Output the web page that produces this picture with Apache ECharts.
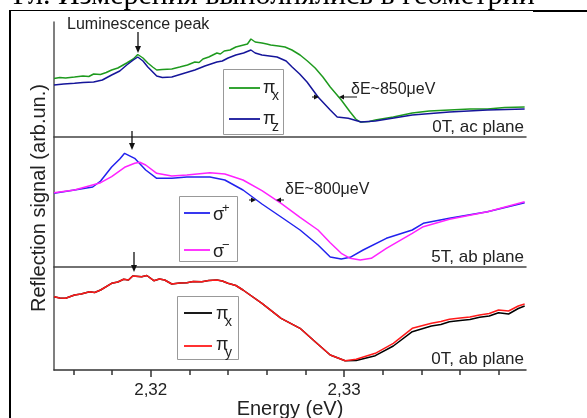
<!DOCTYPE html>
<html>
<head>
<meta charset="utf-8">
<script src="https://cdn.jsdelivr.net/npm/echarts@6/dist/echarts.min.js"></script>
<style>
html, body { margin: 0; padding: 0; background: #fff; }
#chart { width: 587px; height: 418px; }
</style>
</head>
<body>
<div id="chart"></div>
<script>
// x range of the energy axis (eV)
var eMin = 2.315, eMax = 2.3394;
var majorTicks = [2.32, 2.33];
var minorTicks = [2.316, 2.318, 2.322, 2.324, 2.326, 2.328, 2.332, 2.334, 2.336, 2.338];

// top panel, 0T ac plane  [energy, signal]
var piX_ac = [
  [2.31500, 58.5], [2.31530, 59.5], [2.31560, 59], [2.31606, 60], [2.31650, 61], [2.31680, 60.5],
  [2.31705, 63], [2.31740, 62.5], [2.31770, 64.5], [2.31798, 67], [2.31830, 69], [2.31876, 74],
  [2.31910, 78], [2.31933, 82.5], [2.31960, 79], [2.31985, 74], [2.32010, 70], [2.32031, 67],
  [2.32060, 67.5], [2.32109, 68], [2.32150, 70], [2.32190, 72], [2.32228, 75], [2.32250, 74.5],
  [2.32270, 78], [2.32300, 80], [2.32342, 84], [2.32360, 83], [2.32380, 86], [2.32410, 87],
  [2.32440, 90], [2.32480, 92], [2.32500, 93], [2.32518, 98], [2.32540, 95], [2.32575, 94],
  [2.32600, 93], [2.32620, 92], [2.32660, 91], [2.32694, 90], [2.32730, 87], [2.32772, 82],
  [2.32810, 76], [2.32850, 69], [2.32890, 60], [2.32928, 50], [2.32985, 37], [2.33031, 25],
  [2.33060, 18], [2.33083, 15], [2.33130, 15.5], [2.33161, 17], [2.33254, 20], [2.33352, 24],
  [2.33440, 26], [2.33544, 27], [2.33650, 28], [2.33741, 28], [2.33830, 29.5], [2.33933, 30]
];
var piZ_ac = [
  [2.31500, 52], [2.31550, 53], [2.31606, 53.7], [2.31650, 54.5], [2.31705, 55], [2.31750, 57],
  [2.31798, 62], [2.31840, 66], [2.31876, 72], [2.31910, 77], [2.31933, 80], [2.31960, 76],
  [2.31985, 70], [2.32031, 61], [2.32060, 59.5], [2.32109, 60], [2.32160, 63], [2.32228, 67],
  [2.32280, 71], [2.32342, 75], [2.32370, 76], [2.32400, 79], [2.32440, 82], [2.32480, 84],
  [2.32518, 87], [2.32540, 84], [2.32575, 82], [2.32653, 80], [2.32700, 76], [2.32731, 70],
  [2.32770, 63], [2.32808, 55], [2.32865, 40], [2.32928, 27], [2.32964, 20], [2.33021, 18.7],
  [2.33088, 15], [2.33161, 16], [2.33352, 22], [2.33544, 25], [2.33741, 27], [2.33933, 28]
];

// middle panel, 5T ab plane
var sigmaPlus = [
  [2.31500, 73.7], [2.31606, 77], [2.31700, 80], [2.31741, 86], [2.31798, 100], [2.31840, 108],
  [2.31865, 113.7], [2.31917, 108.7], [2.31974, 97], [2.32031, 88.7], [2.32109, 88.7],
  [2.32187, 90], [2.32306, 90], [2.32383, 87], [2.32477, 77], [2.32575, 63], [2.32674, 50],
  [2.32772, 37], [2.32865, 22], [2.32928, 10], [2.32985, 8], [2.33031, 9.7], [2.33098, 17],
  [2.33218, 28.7], [2.33352, 37], [2.33409, 43.7], [2.33544, 48.7], [2.33741, 55.3], [2.33933, 64.3]
];
var sigmaMinus = [
  [2.31500, 74.3], [2.31606, 77], [2.31741, 84.3], [2.31798, 90.3], [2.31865, 99.7],
  [2.31917, 103.7], [2.31943, 104.7], [2.31974, 102], [2.32031, 93.7], [2.32109, 91],
  [2.32187, 92], [2.32306, 94.3], [2.32383, 93], [2.32477, 87], [2.32575, 76.3], [2.32674, 63.7],
  [2.32772, 49.7], [2.32865, 37], [2.32928, 24.3], [2.32985, 13.7], [2.33031, 8.7], [2.33083, 7],
  [2.33140, 8.7], [2.33218, 18.7], [2.33352, 33.7], [2.33409, 40.3], [2.33544, 47.7],
  [2.33741, 55.3], [2.33933, 65.3]
];

// bottom panel, 0T ab plane (both curves share the left part)
var abCommon = [
  [2.31500, 73.3], [2.31530, 72], [2.31560, 71.7], [2.31606, 75], [2.31640, 76], [2.31684, 78.3],
  [2.31710, 77.5], [2.31741, 80], [2.31798, 86.7], [2.31830, 88], [2.31860, 90.7], [2.31885, 90],
  [2.31907, 94], [2.31953, 93.3], [2.31980, 94.5], [2.32016, 89.3], [2.32045, 91], [2.32072, 90],
  [2.32109, 86], [2.32150, 87], [2.32187, 87.3], [2.32220, 88.5], [2.32264, 88.3], [2.32300, 89.5],
  [2.32342, 90], [2.32370, 89], [2.32399, 86.7], [2.32440, 84.5], [2.32477, 80], [2.32575, 66.7],
  [2.32674, 51.7], [2.32772, 41.7], [2.32850, 28.3], [2.32928, 15]
];
var piY_tail = [
  [2.33005, 9.3], [2.33062, 10.7], [2.33161, 16.7], [2.33254, 26.7], [2.33352, 41.7],
  [2.33451, 46.7], [2.33500, 48.5], [2.33544, 50.7], [2.33600, 52], [2.33650, 53],
  [2.33700, 55], [2.33750, 56.5], [2.33798, 60], [2.33850, 59], [2.33900, 64], [2.33933, 66]
];
var piX_tail = [
  [2.33005, 9.3], [2.33062, 9.5], [2.33161, 14.3], [2.33254, 24], [2.33352, 38.3],
  [2.33451, 44], [2.33500, 45.5], [2.33544, 48.3], [2.33600, 49.5], [2.33650, 50.5],
  [2.33700, 52.7], [2.33750, 54], [2.33798, 57.3], [2.33850, 56], [2.33900, 61.5], [2.33933, 64]
];

var FONT = '"Liberation Sans", Arial, sans-serif';

function txt(x, y, s, size, opt) {
  opt = opt || {};
  return {
    type: 'text', x: x, y: y, rotation: opt.rot || 0, z: 100,
    style: {
      text: s, fill: opt.fill || '#222', font: size + 'px ' + (opt.family || FONT),
      align: opt.align || 'left', verticalAlign: opt.va || 'middle'
    }
  };
}
function seg(x1, y1, x2, y2, color, w) {
  return { type: 'line', z: 100, shape: { x1: x1, y1: y1, x2: x2, y2: y2 },
           style: { stroke: color || '#222', lineWidth: w || 1 } };
}
function downArrow(x, y1, y2) {
  return [seg(x, y1, x, y2 - 5, '#111', 1.3),
    { type: 'polygon', z: 100, shape: { points: [[x - 3, y2 - 7], [x + 3, y2 - 7], [x, y2]] },
      style: { fill: '#111' } }];
}
function hArrow(x1, x2, y) {
  var d = x2 > x1 ? 1 : -1;
  return [seg(x1, y, x2 - d * 3, y, '#111', 1),
    { type: 'polygon', z: 100, shape: { points: [[x2 - d * 5, y - 2.5], [x2 - d * 5, y + 2.5], [x2, y]] },
      style: { fill: '#111' } }];
}
function box(x, y, w, h) {
  return { type: 'rect', z: 90, shape: { x: x, y: y, width: w, height: h },
           style: { fill: '#fff', stroke: '#999', lineWidth: 1 } };
}

var graphics = [];
graphics.push(txt(13, 11, 'Гл. Измерения выполнялись в геометрии', 30,
  { family: '"Liberation Serif", serif', va: 'bottom', fill: '#000' }));
graphics.push(seg(9, 10.5, 533, 10.5, '#000', 1));
graphics.push(seg(533, 11, 587, 11, '#000', 2));
graphics.push(seg(10, 10, 10, 418, '#000', 2));

graphics.push(txt(39, 198, 'Reflection signal (arb.un.)', 20, { rot: Math.PI / 2, align: 'center' }));
graphics.push(txt(290, 409, 'Energy (eV)', 20, { align: 'center' }));

graphics.push(txt(67, 25, 'Luminescence peak', 16));
graphics = graphics.concat(downArrow(138, 32, 53));
graphics = graphics.concat(downArrow(132, 131, 150));
graphics = graphics.concat(downArrow(134, 252, 272));

graphics.push(txt(524, 127, '0T, ac plane', 17, { align: 'right' }));
graphics.push(txt(524, 257, '5T, ab plane', 17, { align: 'right' }));
graphics.push(txt(524, 359, '0T, ab plane', 17, { align: 'right' }));

graphics.push(txt(351, 90, 'δE~850μeV', 16));
graphics = graphics.concat(hArrow(312, 319, 97));
graphics = graphics.concat(hArrow(357, 339, 97));
graphics.push(txt(285, 190, 'δE~800μeV', 16));
graphics = graphics.concat(hArrow(249, 256, 200));
graphics = graphics.concat(hArrow(284, 276, 200));

// legend boxes
graphics.push(box(223.5, 69.5, 60, 65));
graphics.push(seg(229, 88, 260, 88, '#1e9a1e', 1.8));
graphics.push(txt(263, 88, 'π', 18));
graphics.push(txt(272, 96, 'x', 14));
graphics.push(seg(229, 119, 260, 119, '#15159a', 1.8));
graphics.push(txt(263, 119, 'π', 18));
graphics.push(txt(272, 127, 'z', 14));

graphics.push(box(179.5, 196.5, 58, 65));
graphics.push(seg(184, 213, 210, 213, '#2222ee', 1.8));
graphics.push(txt(213, 215, 'σ', 18));
graphics.push(txt(222, 208, '+', 13));
graphics.push(seg(184, 250, 210, 250, '#ff22ff', 1.8));
graphics.push(txt(213, 252, 'σ', 18));
graphics.push(txt(222, 245, '−', 13));

graphics.push(box(177.5, 296.5, 61, 63));
graphics.push(seg(184, 313, 212, 313, '#000', 1.8));
graphics.push(txt(216, 314, 'π', 18));
graphics.push(txt(225, 322, 'x', 14));
graphics.push(seg(184, 346, 212, 346, '#ff1a1a', 1.8));
graphics.push(txt(216, 345, 'π', 18));
graphics.push(txt(225, 353, 'y', 14));

function hiddenX(i) {
  return {
    gridIndex: i, type: 'value', min: eMin, max: eMax,
    axisLine: { show: true, onZero: false, lineStyle: { color: '#444', width: 1.5 } },
    axisTick: { show: false }, axisLabel: { show: false }, splitLine: { show: false }
  };
}
function plainY(i, max) {
  return {
    gridIndex: i, type: 'value', min: 0, max: max,
    axisLine: { show: true, lineStyle: { color: '#555', width: 1.5 } },
    axisTick: { show: false }, axisLabel: { show: false }, splitLine: { show: false }
  };
}
function curve(name, data, color, idx) {
  return {
    name: name, type: 'line', data: data, xAxisIndex: idx, yAxisIndex: idx === 3 ? 2 : idx,
    showSymbol: false, symbol: 'none', silent: true,
    lineStyle: { color: color, width: 1.5 }
  };
}

var myChart = echarts.init(document.getElementById('chart'));
var option = {
  animation: false,
  backgroundColor: '#fff',
  grid: [
    { left: 54, top: 22, width: 472, height: 115 },
    { left: 54, top: 137, width: 472, height: 130 },
    { left: 54, top: 267, width: 472, height: 103 }
  ],
  xAxis: [
    hiddenX(0),
    hiddenX(1),
    {
      gridIndex: 2, type: 'value', min: eMin, max: eMax,
      axisLine: { show: true, onZero: false, lineStyle: { color: '#333', width: 1.5 } },
      axisTick: { show: true, length: 5, customValues: minorTicks, lineStyle: { color: '#333', width: 1.5 } },
      axisLabel: { show: false }, splitLine: { show: false }
    },
    {
      gridIndex: 2, type: 'value', min: eMin, max: eMax, position: 'bottom',
      axisLine: { show: false },
      axisTick: { show: true, length: 7, customValues: majorTicks, lineStyle: { color: '#333', width: 1.5 } },
      axisLabel: {
        show: true, customValues: majorTicks, margin: 12, fontSize: 17, color: '#222', fontFamily: FONT,
        formatter: function (v) { return v.toFixed(2).replace('.', ','); }
      },
      splitLine: { show: false }
    }
  ],
  yAxis: [plainY(0, 115), plainY(1, 130), plainY(2, 103)],
  series: [
    curve('πx', piX_ac, '#1e9a1e', 0),
    curve('πz', piZ_ac, '#15159a', 0),
    curve('σ+', sigmaPlus, '#2222ee', 1),
    curve('σ−', sigmaMinus, '#ff22ff', 1),
    curve('πx ab', abCommon.concat(piX_tail), '#000', 2),
    curve('πy', abCommon.concat(piY_tail), '#ff1a1a', 2)
  ],
  graphic: graphics
};
myChart.setOption(option);
</script>
</body>
</html>
